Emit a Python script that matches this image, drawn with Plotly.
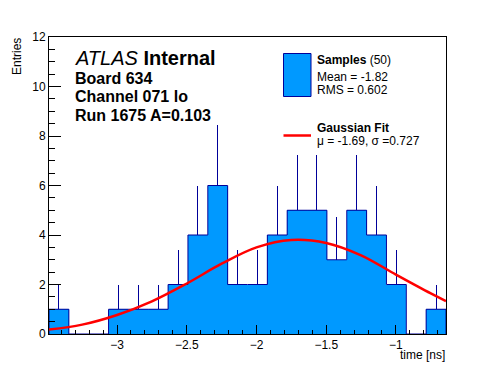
import plotly.graph_objects as go

# ---- data ----
bin_low = -3.488
bin_width = 0.14235
counts = [1, 0, 0, 1, 1, 1, 2, 4, 6, 2, 2, 4, 5, 5, 3, 5, 4, 2, 0, 1]
errors = [1, 0, 0, 1, 1, 1, 1.41, 2, 2.45, 1.41, 1.41, 2, 2.24, 2.24, 1.73, 2.24, 2, 1.41, 0, 1]

fit_x = [-3.488, -3.25, -3.0, -2.75, -2.5, -2.25, -2.0, -1.75, -1.5, -1.25, -1.0, -0.75, -0.641]
fit_y = [0.18, 0.38, 0.77, 1.32, 2.04, 2.84, 3.50, 3.80, 3.68, 3.18, 2.40, 1.64, 1.33]

x_ticks = [-3, -2.5, -2, -1.5, -1]
y_ticks = [0, 2, 4, 6, 8, 10, 12]

n_bins = len(counts)
edges = [bin_low + i * bin_width for i in range(n_bins + 1)]
centers = [bin_low + (i + 0.5) * bin_width for i in range(n_bins)]

FILL = "#0099ff"
NAVY = "#000099"
FONT = "Liberation Sans, Arial, Helvetica, sans-serif"

W, H = 496, 372
L, T = 49, 37          # plot-area position on screen
PW, PH = 397, 297      # plot-area size
OFF = 8                # page body margin offset

ml, mt = L - OFF, T - OFF
mr, mb = W - ml - PW, H - mt - PH


def px(x):
    return (x - L) / PW


def py(y):
    return (T + PH - y) / PH


fig = go.Figure()

fig.add_trace(go.Bar(
    x=centers, y=counts, width=[bin_width] * n_bins,
    marker=dict(color=FILL, line=dict(width=0)),
    error_y=dict(type="data", symmetric=False, array=errors,
                 arrayminus=[0] * n_bins, width=0, thickness=1, color=NAVY),
    showlegend=False, hoverinfo="skip",
))

step_x = [edges[0]] + edges[:n_bins] + [edges[-1]]
step_y = [0] + counts + [0]
fig.add_trace(go.Scatter(
    x=step_x, y=step_y, mode="lines", line=dict(shape="hv", color=NAVY, width=1),
    showlegend=False, hoverinfo="skip",
))

fig.add_trace(go.Scatter(
    x=fit_x, y=fit_y, mode="lines", line=dict(shape="spline", color="#ff0000", width=2.5),
    showlegend=False, hoverinfo="skip",
))

ann = []


def text(x, y, s, size, xanchor="left", **kw):
    ann.append(dict(x=px(x), y=py(y), xref="paper", yref="paper", text=s, showarrow=False,
                    xanchor=xanchor, yanchor="middle", borderpad=0,
                    font=dict(size=size, color="black", family=FONT), **kw))


text(74, 58.5, "<i>ATLAS</i> <b>Internal</b>", 20)
text(74, 78, "<b>Board 634</b>", 16)
text(74, 96.5, "<b>Channel 071 lo</b>", 16)
text(74, 115, "<b>Run 1675 A=0.103</b>", 16)

text(316, 60, "<b>Samples</b> (50)", 12)
text(316, 76.5, "Mean = -1.82", 12)
text(316, 89.5, "RMS = 0.602", 12)
text(316, 128, "<b>Gaussian Fit</b>", 12)
text(316, 141, "\u03bc = -1.69, \u03c3 =0.727", 12)

text(446, 355, "time [ns]", 12, xanchor="right")
text(17, 57, "Entries", 12, xanchor="center", textangle=-90)

shapes = [
    dict(type="rect", xref="paper", yref="paper", x0=px(283.5), x1=px(311), y0=py(96.5), y1=py(53.5),
         fillcolor=FILL, line=dict(color=NAVY, width=1)),
    dict(type="line", xref="paper", yref="paper", x0=px(283.5), x1=px(311), y0=py(135.5), y1=py(135.5),
         line=dict(color="#ff0000", width=2.5)),
]

fig.update_layout(
    width=W, height=H,
    margin=dict(l=ml, r=mr, t=mt, b=mb, pad=0),
    paper_bgcolor="white", plot_bgcolor="white",
    bargap=0, barmode="overlay",
    font=dict(family=FONT, size=12, color="black"),
    annotations=ann, shapes=shapes,
    xaxis=dict(range=[edges[0], edges[-1]], tickvals=x_ticks, ticks="inside", ticklen=9,
               tickcolor="black", showline=True, linecolor="black", linewidth=1, mirror=True,
               showgrid=False, zeroline=False, tickfont=dict(size=12),
               minor=dict(dtick=0.1, tick0=-3, ticks="inside", ticklen=4, tickcolor="black", showgrid=False)),
    yaxis=dict(range=[0, 12], tickvals=y_ticks, ticks="inside", ticklen=12,
               tickcolor="black", showline=True, linecolor="black", linewidth=1, mirror=True,
               showgrid=False, zeroline=False, tickfont=dict(size=12),
               minor=dict(dtick=0.5, tick0=0, ticks="inside", ticklen=6, tickcolor="black", showgrid=False)),
)

fig.write_html("out.html")
